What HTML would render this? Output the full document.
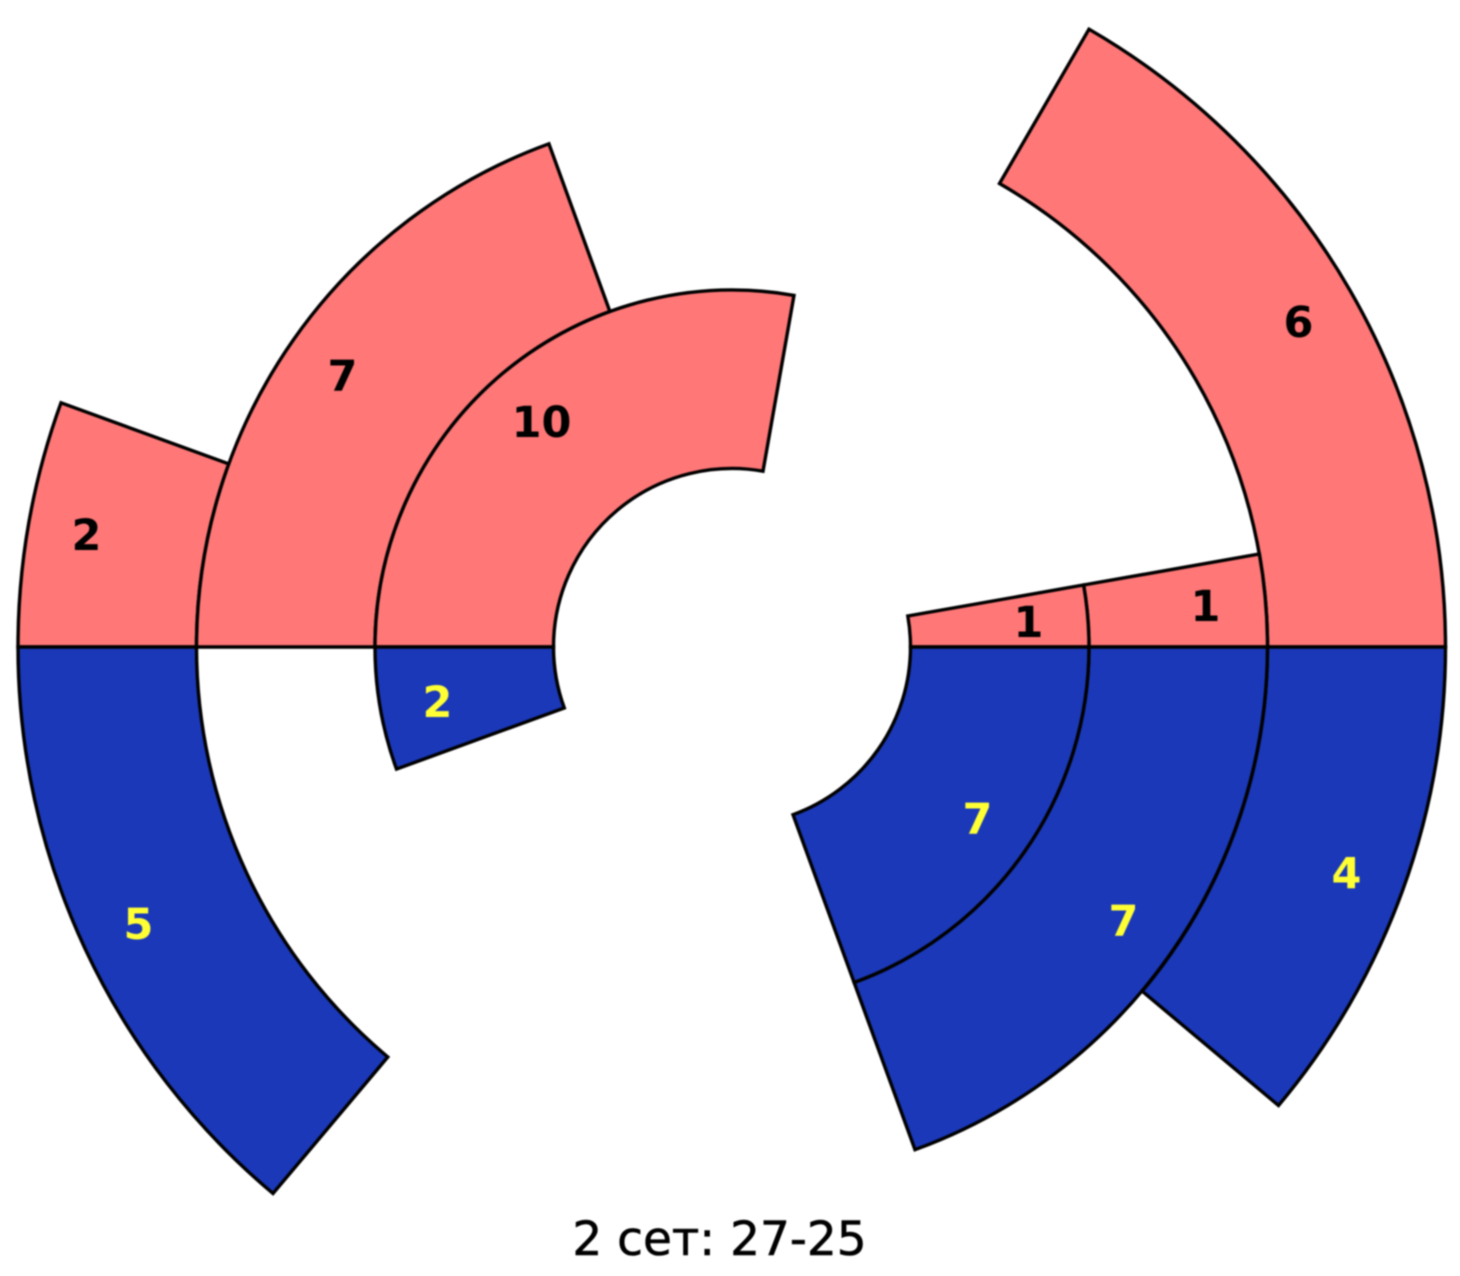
<!DOCTYPE html>
<html>
<head>
<meta charset="utf-8">
<style>
html,body{margin:0;padding:0;background:#fff;width:1460px;height:1276px;overflow:hidden}
svg{display:block}
.w{stroke:#000;stroke-width:3.4;stroke-linejoin:miter}
.r{fill:#ff7777}
.b{fill:#1a38b8}
text{font-family:"DejaVu Sans","Liberation Sans",sans-serif;text-anchor:middle}
.l{font-weight:bold;font-size:43px}
.k{fill:#000}
.y{fill:#ffff33}
</style>
</head>
<body>
<svg width="1460" height="1276" viewBox="0 0 1460 1276" xmlns="http://www.w3.org/2000/svg">
<g style="filter:blur(0.7px)">
<path class="w r" d="M18 647A714 714 0 0 1 61 402.8L228.8 463.9A535.5 535.5 0 0 0 196.5 647Z"/>
<path class="w r" d="M196.5 647A535.5 535.5 0 0 1 548.9 143.8L609.9 311.5A357 357 0 0 0 375 647Z"/>
<path class="w r" d="M375 647A357 357 0 0 1 794 295.4L763 471.2A178.5 178.5 0 0 0 553.5 647Z"/>
<path class="w b" d="M375 647A357 357 0 0 0 396.5 769.1L564.3 708A178.5 178.5 0 0 1 553.5 647Z"/>
<path class="w b" d="M18 647A714 714 0 0 0 273 1193.5L387.8 1057A535.5 535.5 0 0 1 196.5 647Z"/>
<path class="w r" d="M1445.5 647A713.5 713.5 0 0 0 1089 29.2L999.5 183.5A535.5 535.5 0 0 1 1267.5 647Z"/>
<path class="w r" d="M1267.5 647A535.5 535.5 0 0 0 1259.4 554L1083.6 585A357 357 0 0 1 1089 647Z"/>
<path class="w r" d="M1089 647A357 357 0 0 0 1083.6 585L907.8 616A178.5 178.5 0 0 1 910.5 647Z"/>
<path class="w b" d="M1445.5 647A713.5 713.5 0 0 1 1278.5 1105.5L1142.2 991.2A535.5 535.5 0 0 0 1267.5 647Z"/>
<path class="w b" d="M1267.5 647A535.5 535.5 0 0 1 915 1149.7L854.1 982.5A357 357 0 0 0 1089 647Z"/>
<path class="w b" d="M1089 647A357 357 0 0 1 854.1 982.5L793 814.7A178.5 178.5 0 0 0 910.5 647Z"/>
<text class="l k" x="86.500" y="550">2</text>
<text class="l k" x="342.500" y="391">7</text>
<text class="l k" x="541.500" y="437">10</text>
<text class="l k" x="1298.500" y="337">6</text>
<text class="l k" x="1205.500" y="621">1</text>
<text class="l k" x="1028.500" y="637">1</text>
<text class="l y" x="437.500" y="717">2</text>
<text class="l y" x="138.500" y="939">5</text>
<text class="l y" x="977.500" y="834">7</text>
<text class="l y" x="1123.500" y="936">7</text>
<text class="l y" x="1346.500" y="888">4</text>
<text x="719.500" y="1255" font-size="47" fill="#000" stroke="#000" stroke-width="0.6">2 сет: 27-25</text>
</g>
</svg>
</body>
</html>
